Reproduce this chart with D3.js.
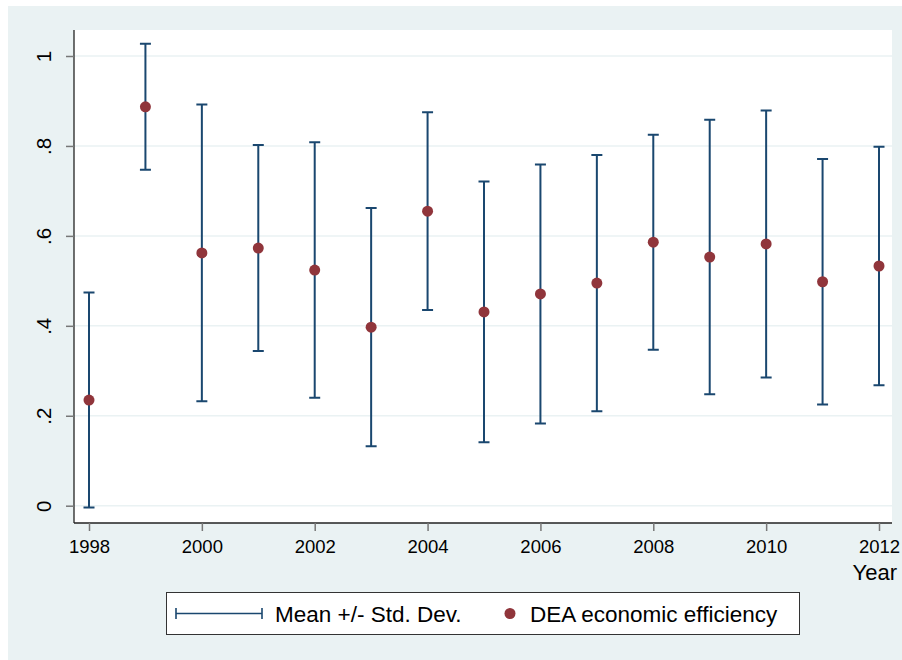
<!DOCTYPE html>
<html>
<head>
<meta charset="utf-8">
<script src="https://cdn.jsdelivr.net/npm/d3@7"></script>
<style>
  html, body { margin: 0; padding: 0; background: #ffffff; }
  svg { display: block; font-family: "Liberation Sans", Arial, sans-serif; }
</style>
</head>
<body>
<svg id="chart" width="902" height="660"></svg>
<script>
// Annual DEA economic efficiency: mean and standard deviation by year
const years = [1998, 1999, 2000, 2001, 2002, 2003, 2004, 2005, 2006, 2007, 2008, 2009, 2010, 2011, 2012];
const meanEff = [0.235, 0.887, 0.562, 0.573, 0.524, 0.397, 0.655, 0.431, 0.471, 0.495, 0.586, 0.553, 0.582, 0.498, 0.533];
const sdEff   = [0.239, 0.140, 0.330, 0.229, 0.284, 0.265, 0.220, 0.290, 0.288, 0.285, 0.239, 0.305, 0.297, 0.273, 0.265];

const xTicks = [1998, 2000, 2002, 2004, 2006, 2008, 2010, 2012];
const yTicks = [0, 0.2, 0.4, 0.6, 0.8, 1];
const yTickLabels = ["0", ".2", ".4", ".6", ".8", "1"];
const legendLabels = ["Mean +/- Std. Dev.", "DEA economic efficiency"];

const navy = "#1a476f";
const maroon = "#90353b";
const bg = "#eaf2f3";

const svg = d3.select("#chart");

// outer graph region
svg.append("rect").attr("x", 8).attr("y", 6).attr("width", 894).attr("height", 654).attr("fill", bg);

// plot region
const plot = { left: 74, top: 30, right: 892, bottom: 523 };
svg.append("rect")
  .attr("x", plot.left).attr("y", plot.top)
  .attr("width", plot.right - plot.left).attr("height", plot.bottom - plot.top)
  .attr("fill", "#ffffff");

const x = d3.scaleLinear().domain([1998, 2012]).range([89, 879]);
const y = d3.scaleLinear().domain([0, 1]).range([505.7, 56]);

// horizontal grid
svg.append("g").selectAll("line").data(yTicks).join("line")
  .attr("x1", plot.left).attr("x2", plot.right)
  .attr("y1", d => y(d)).attr("y2", d => y(d))
  .attr("stroke", bg).attr("stroke-width", 1.5);

// y axis
const yAxis = d3.axisLeft(y).tickValues(yTicks).tickSize(8).tickPadding(0)
  .tickFormat((d, i) => yTickLabels[i]);
const gy = svg.append("g").attr("transform", `translate(${plot.left},0)`).call(yAxis);
gy.select(".domain").attr("d", `M0,${plot.top}V${plot.bottom}`).attr("stroke", "#222").attr("stroke-width", 1.3);
gy.selectAll(".tick line").attr("stroke", "#777").attr("stroke-width", 1.5);
gy.selectAll(".tick text")
  .attr("x", 0).attr("y", 0).attr("dy", 0)
  .attr("transform", "translate(-23,0) rotate(-90)")
  .attr("text-anchor", "middle")
  .attr("font-size", 20.5).attr("fill", "#000")
  .attr("font-family", "Liberation Sans, Arial, sans-serif");

// x axis
const xAxis = d3.axisBottom(x).tickValues(xTicks).tickSize(8).tickPadding(9).tickFormat(d3.format("d"));
const gx = svg.append("g").attr("transform", `translate(0,${plot.bottom})`).call(xAxis);
gx.select(".domain").attr("d", `M${plot.left},0H${plot.right}`).attr("stroke", "#222").attr("stroke-width", 1.3);
gx.selectAll(".tick line").attr("stroke", "#777").attr("stroke-width", 1.5);
gx.selectAll(".tick text").attr("font-size", 18.5).attr("fill", "#000")
  .attr("font-family", "Liberation Sans, Arial, sans-serif");

svg.append("text").attr("x", 897).attr("y", 580).attr("text-anchor", "end")
  .attr("font-size", 22).attr("fill", "#000").text("Year");

// error bars (mean +/- sd)
const rows = years.map((yr, i) => ({ yr, m: meanEff[i], lo: meanEff[i] - sdEff[i], hi: meanEff[i] + sdEff[i] }));
const cap = 5.5;
const bars = svg.append("g").attr("stroke", navy).attr("stroke-width", 2).attr("fill", "none");
bars.selectAll("path").data(rows).join("path")
  .attr("d", d => `M${x(d.yr)},${y(d.lo)}V${y(d.hi)}` +
                  `M${x(d.yr) - cap},${y(d.hi)}H${x(d.yr) + cap}` +
                  `M${x(d.yr) - cap},${y(d.lo)}H${x(d.yr) + cap}`);

// means
svg.append("g").selectAll("circle").data(rows).join("circle")
  .attr("cx", d => x(d.yr)).attr("cy", d => y(d.m)).attr("r", 5.5).attr("fill", maroon);

// legend
const lg = svg.append("g");
lg.append("rect").attr("x", 166.5).attr("y", 592.5).attr("width", 633).attr("height", 42)
  .attr("fill", "#fff").attr("stroke", "#333").attr("stroke-width", 1);
lg.append("path").attr("d", "M176,613.5H262M176,608V619M262,608V619")
  .attr("stroke", navy).attr("stroke-width", 1.6).attr("fill", "none");
lg.append("text").attr("x", 275).attr("y", 621.5).attr("font-size", 22.5).attr("fill", "#000").text(legendLabels[0]);
lg.append("circle").attr("cx", 510).attr("cy", 613.5).attr("r", 5.5).attr("fill", maroon);
lg.append("text").attr("x", 530).attr("y", 621.5).attr("font-size", 22.5).attr("fill", "#000").text(legendLabels[1]);
</script>
</body>
</html>
